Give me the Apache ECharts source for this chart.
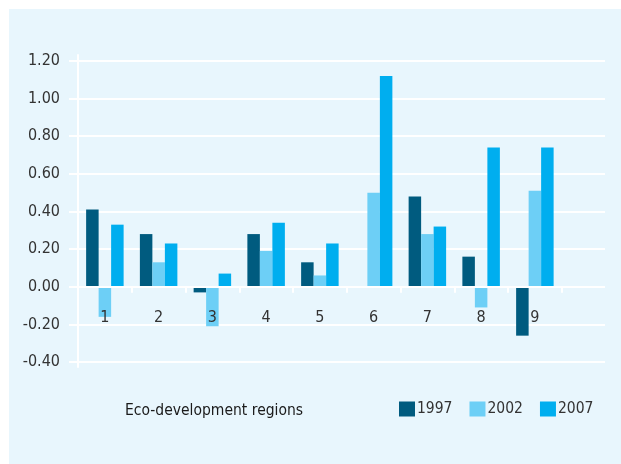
<!DOCTYPE html>
<html>
<head>
<meta charset="utf-8">
<script src="https://cdn.jsdelivr.net/npm/echarts@6/dist/echarts.min.js"></script>
<style>
  html, body { margin: 0; padding: 0; background: #ffffff; }
  #chart { width: 621px; height: 464px; }
</style>
</head>
<body>
<div id="chart"></div>
<script>
// Index values per eco-development region
const regions = ['1', '2', '3', '4', '5', '6', '7', '8', '9'];
const years = ['1997', '2002', '2007'];
const values1997 = [0.41, 0.28, -0.03, 0.28, 0.13, null, 0.48, 0.16, -0.26];
const values2002 = [-0.16, 0.13, -0.21, 0.19, 0.06, 0.50, 0.28, -0.11, 0.51];
const values2007 = [0.33, 0.23, 0.07, 0.34, 0.23, 1.12, 0.32, 0.74, 0.74];
const yMin = -0.4, yMax = 1.2, yStep = 0.2;

const colors = ['#005b7f', '#6dcff6', '#00aeef'];
const FONT = '"Liberation Sans Narrow", "DejaVu Sans Condensed", "Noto Sans", sans-serif';
const panel = '#e8f6fd';

const W = 621, H = 464;
const plotTop = 61, plotBottom = 102;
const plotHeight = H - plotTop - plotBottom;
// lift the category axis from the bottom edge up to the value 0
const zeroOffset = -(0 - yMin) / (yMax - yMin) * plotHeight;

const chart = echarts.init(document.getElementById('chart'), null, { renderer: 'canvas' });

const seriesData = [values1997, values2002, values2007];

const hiddenParts = {
  axisLine: { show: false }, axisTick: { show: false },
  axisLabel: { show: false }, splitLine: { show: false }
};

chart.setOption({
  animation: false,
  backgroundColor: '#ffffff',
  color: colors,
  graphic: [{
    type: 'rect', z: -10, silent: true,
    shape: { x: 9, y: 9, width: 640, height: 480 },
    style: { fill: panel }
  }],
  title: {
    text: 'Eco-development regions',
    left: 125, top: 403, padding: 0,
    textStyle: { fontFamily: FONT, fontSize: 15.5, fontWeight: 'normal', color: '#1a1a1a' }
  },
  legend: {
    data: years,
    left: 399, top: 401, width: 230, padding: 0,
    itemWidth: 16, itemHeight: 15, itemGap: 17,
    icon: 'rect',
    textStyle: { fontFamily: FONT, fontSize: 15.5, color: '#333333', padding: [0, 0, 0, -3] }
  },
  grid: [
    // value grid carrying the labels and horizontal gridlines
    { left: 78, right: 16, top: plotTop, bottom: plotBottom },
    // bar grid, nine category bands
    { left: 78, width: 483.75, top: plotTop, bottom: plotBottom },
    // slightly taller grid for the vertical axis line
    { left: 78, right: 16, top: plotTop - 6, bottom: plotBottom - 5 }
  ],
  xAxis: [
    { gridIndex: 0, type: 'value', show: false },
    {
      gridIndex: 1, type: 'category', data: regions, z: 5,
      position: 'bottom', offset: zeroOffset,
      axisLine: { onZero: false, lineStyle: { color: '#ffffff', width: 2 } },
      axisTick: { show: true, length: 6, lineStyle: { color: '#ffffff', width: 2 } },
      axisLabel: { margin: 23, fontFamily: FONT, fontSize: 16, color: '#333333' }
    },
    { gridIndex: 2, type: 'value', show: false }
  ],
  yAxis: [
    {
      gridIndex: 0, type: 'value', min: yMin, max: yMax, interval: yStep,
      axisLine: { show: false },
      axisTick: { show: true, length: 9, lineStyle: { color: '#ffffff', width: 2 } },
      splitLine: { show: true, lineStyle: { color: '#ffffff', width: 2 } },
      axisLabel: {
        margin: 18, fontFamily: FONT, fontSize: 16, color: '#333333',
        formatter: v => v.toFixed(2)
      }
    },
    Object.assign({ gridIndex: 1, type: 'value', min: yMin, max: yMax, interval: yStep }, hiddenParts),
    {
      gridIndex: 2, type: 'value', min: 0, max: 1,
      axisLine: { show: true, lineStyle: { color: '#ffffff', width: 2 } },
      axisTick: { show: false }, axisLabel: { show: false }, splitLine: { show: false }
    }
  ],
  series: years.map((y, i) => ({
    name: y,
    type: 'bar',
    xAxisIndex: 1, yAxisIndex: 1,
    data: seriesData[i],
    barWidth: 12.5,
    barGap: '0%',
    itemStyle: { color: colors[i] }
  }))
});
</script>
</body>
</html>
